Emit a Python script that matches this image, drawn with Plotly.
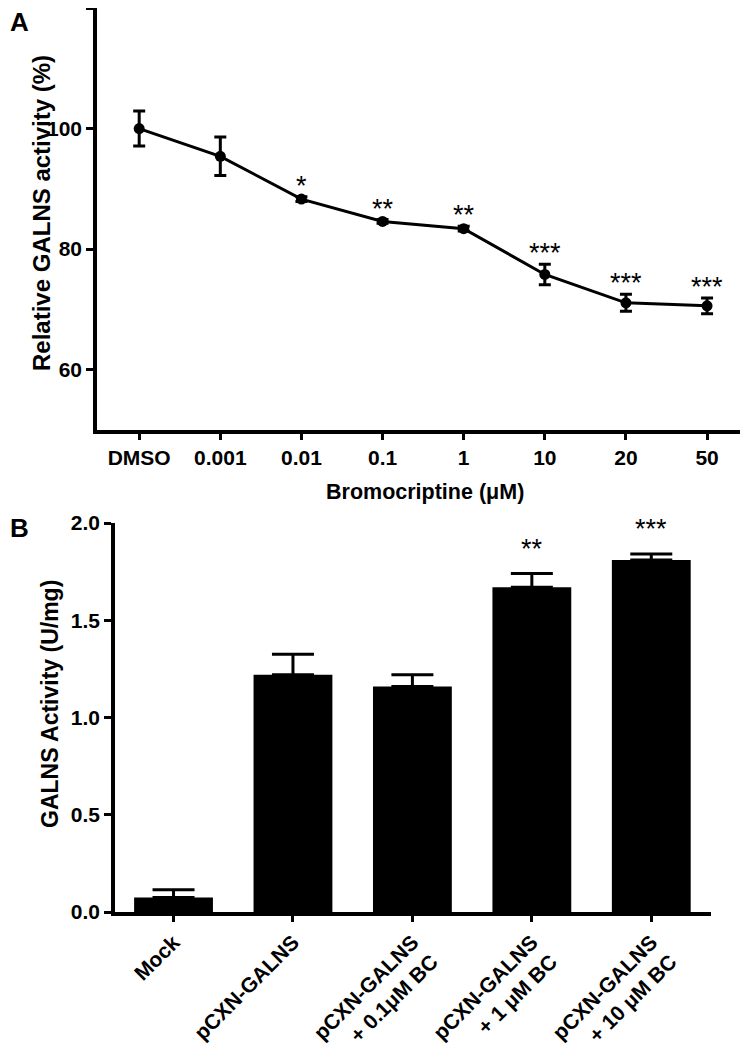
import plotly.graph_objects as go

# ---- Panel A data ----
conc = ["DMSO", "0.001", "0.01", "0.1", "1", "10", "20", "50"]
activity = [100.0, 95.4, 88.3, 84.6, 83.4, 75.8, 71.1, 70.6]
activity_err = [2.9, 3.2, 0.4, 0.3, 0.4, 1.7, 1.4, 1.3]
stars_a = ["", "", "*", "**", "**", "***", "***", "***"]
yticks_a = [60, 80, 100, 120]

# ---- Panel B data ----
groups = ["Mock", "pCXN-GALNS", "pCXN-GALNS<br>+ 0.1μM BC",
          "pCXN-GALNS<br>+ 1 μM BC", "pCXN-GALNS<br>+ 10 μM BC"]
galns = [0.075, 1.22, 1.16, 1.67, 1.81]
galns_err = [0.04, 0.105, 0.06, 0.07, 0.03]
stars_b = ["", "", "", "**", "***"]
yticks_b = [0.0, 0.5, 1.0, 1.5, 2.0]

# page body has an 8px default margin; draw in a slightly smaller figure
OFF = 8
W, H = 748 - OFF, 1050 - OFF
FONT = "Arial, Liberation Sans, Helvetica, sans-serif"

def px_x(x):
    return (x - OFF) / W

def px_y(y):
    return 1 - (y - OFF) / H

fig = go.Figure()

xa = list(range(len(conc)))
fig.add_trace(go.Scatter(
    x=xa, y=activity, mode="lines+markers",
    line=dict(color="black", width=3),
    marker=dict(color="black", size=11),
    error_y=dict(type="data", array=activity_err, color="black",
                 thickness=3, width=6),
    xaxis="x", yaxis="y", showlegend=False, cliponaxis=False))

xb = list(range(len(groups)))
fig.add_trace(go.Bar(
    x=xb, y=galns, width=0.66,
    marker=dict(color="black", line=dict(width=0)),
    error_y=dict(type="data", array=galns_err, arrayminus=[0] * len(galns),
                 symmetric=False, color="black", thickness=3, width=21),
    xaxis="x2", yaxis="y2", showlegend=False))

annotations = []
for i, s in enumerate(stars_a):
    if s:
        annotations.append(dict(x=xa[i], y=activity[i] + activity_err[i],
                                xref="x", yref="y", text=s, showarrow=False,
                                xanchor="center", yanchor="bottom", yshift=-6,
                                font=dict(size=27, family=FONT, color="black")))
for i, s in enumerate(stars_b):
    if s:
        annotations.append(dict(x=xb[i], y=galns[i] + galns_err[i],
                                xref="x2", yref="y2", text=s, showarrow=False,
                                xanchor="center", yanchor="bottom", yshift=8,
                                font=dict(size=27, family=FONT, color="black")))

def label(x, y, text, size, angle=0, xanchor="center", yanchor="middle"):
    return dict(x=px_x(x), y=px_y(y), xref="paper", yref="paper",
                text=text, textangle=angle, showarrow=False,
                xanchor=xanchor, yanchor=yanchor,
                font=dict(size=size, family=FONT, color="black",
                          weight="bold"))

annotations += [
    label(41, 213, "Relative GALNS activity (%)", 24, -90),
    label(425, 492, "Bromocriptine (μM)", 21.5),
    label(50, 704, "GALNS Activity (U/mg)", 23, -90),
    label(8, 5, "A", 26, xanchor="left", yanchor="top"),
    label(8, 528, "B", 26, xanchor="left"),
]

tickfont = dict(size=21, family=FONT, color="black", weight="bold")
axis_common = dict(showline=True, linecolor="black", linewidth=3.5,
                   ticks="outside", tickcolor="black", tickwidth=3,
                   showgrid=False, zeroline=False, tickfont=tickfont,
                   automargin=False)

fig.update_layout(
    width=W, height=H,
    margin=dict(l=0, r=0, t=0, b=0),
    paper_bgcolor="white", plot_bgcolor="white",
    annotations=annotations,
    xaxis=dict(domain=[px_x(97), px_x(746)], anchor="y",
               range=[-0.52, 7.48], tickmode="array", tickvals=xa,
               ticktext=conc, ticklen=6, **axis_common),
    yaxis=dict(domain=[px_y(430), px_y(8)], anchor="x",
               range=[50, 120], tickmode="array", tickvals=yticks_a,
               ticktext=[str(v) for v in yticks_a], ticklen=7, **axis_common),
    xaxis2=dict(domain=[px_x(115), px_x(711)], anchor="y2",
                range=[-0.49, 4.5], tickmode="array", tickvals=xb,
                ticktext=groups, tickangle=-45, ticklen=6, **axis_common),
    yaxis2=dict(domain=[px_y(912), px_y(523)], anchor="x2",
                range=[0, 2.0], tickmode="array", tickvals=yticks_b,
                ticktext=[f"{v:.1f}" for v in yticks_b], ticklen=7,
                **axis_common),
)

fig.write_html("out.html")
